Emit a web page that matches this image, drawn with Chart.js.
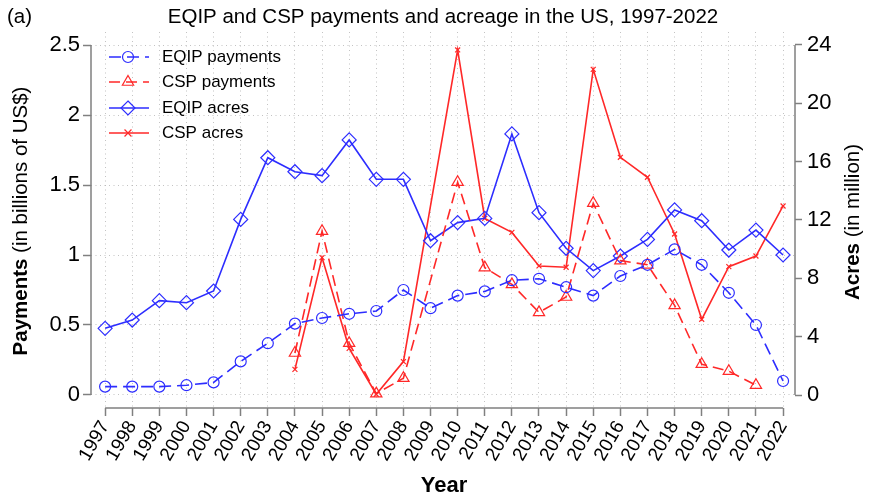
<!DOCTYPE html>
<html>
<head>
<meta charset="utf-8">
<script src="https://cdn.jsdelivr.net/npm/chart.js@4/dist/chart.umd.min.js"></script>
<style>
html,body{margin:0;padding:0;background:#fff;}
#wrap{width:870px;height:501px;position:relative;}
</style>
</head>
<body>
<div id="wrap"><canvas id="c" width="870" height="501"></canvas></div>
<script>
const years = [1997,1998,1999,2000,2001,2002,2003,2004,2005,2006,2007,2008,2009,2010,2011,2012,2013,2014,2015,2016,2017,2018,2019,2020,2021,2022];
const eqipPayments = [0.06,0.06,0.06,0.07,0.09,0.24,0.37,0.51,0.55,0.58,0.60,0.75,0.62,0.71,0.74,0.82,0.83,0.77,0.71,0.85,0.93,1.04,0.93,0.73,0.50,0.10];
const cspPayments = [null,null,null,null,null,null,null,0.30,1.17,0.37,0.01,0.12,null,1.52,0.91,0.79,0.59,0.70,1.37,0.96,0.93,0.64,0.22,0.17,0.07,null];
const eqipAcres = [4.57,5.14,6.47,6.33,7.13,12.04,16.27,15.31,15.04,17.49,14.79,14.79,10.58,11.82,12.11,17.90,12.50,10.06,8.53,9.53,10.67,12.69,11.95,9.94,11.31,9.60];
const cspAcres = [null,null,null,null,null,null,null,1.76,9.42,3.20,0.05,2.29,null,23.66,12.11,11.15,8.85,8.76,22.33,16.30,14.93,11.04,5.19,8.80,9.53,12.96];
const leftTicks = [0,0.5,1,1.5,2,2.5];
const rightTicks = [0,4,8,12,16,20,24];
const seriesNames = ['EQIP payments','CSP payments','EQIP acres','CSP acres'];

const BLUE = 'rgb(45,45,255)';
const RED = 'rgb(255,40,40)';
const FONT = "'Liberation Sans', Arial, sans-serif";
const AXIS = 'rgb(128,128,128)';

function pts(arr){ return arr.map((v,i)=>({x:years[i], y:v})); }

const datasets = [
  {label:seriesNames[0], data:pts(eqipPayments), yAxisID:'y', borderColor:BLUE, borderWidth:1.6, borderDash:[12,6],
   pointStyle:'circle', pointRadius:5.5, pointBorderColor:BLUE, pointBackgroundColor:'rgba(0,0,0,0)', pointBorderWidth:1.2},
  {label:seriesNames[1], data:pts(cspPayments), yAxisID:'y', borderColor:RED, borderWidth:1.6, borderDash:[11,6],
   pointStyle:'triangle', pointRadius:6.5, pointBorderColor:RED, pointBackgroundColor:'rgba(0,0,0,0)', pointBorderWidth:1.2, spanGaps:true},
  {label:seriesNames[2], data:pts(eqipAcres), yAxisID:'y1', borderColor:BLUE, borderWidth:1.6,
   pointStyle:'rectRot', pointRadius:7, pointBorderColor:BLUE, pointBackgroundColor:'rgba(0,0,0,0)', pointBorderWidth:1.2},
  {label:seriesNames[3], data:pts(cspAcres), yAxisID:'y1', borderColor:RED, borderWidth:1.6,
   pointStyle:'crossRot', pointRadius:3.5, pointBorderColor:RED, pointBackgroundColor:'rgba(0,0,0,0)', pointBorderWidth:1.2, spanGaps:true}
];

function drawMarker(ctx, style, x, y, r, color){
  ctx.save();
  ctx.strokeStyle = color; ctx.lineWidth = 1.2; ctx.setLineDash([]);
  ctx.beginPath();
  if(style==='circle'){ ctx.arc(x,y,r,0,Math.PI*2); }
  else if(style==='triangle'){
    const a = r*Math.sqrt(3)/2;
    ctx.moveTo(x, y-r); ctx.lineTo(x+a, y+r/2); ctx.lineTo(x-a, y+r/2); ctx.closePath();
  } else if(style==='rectRot'){
    ctx.moveTo(x, y-r); ctx.lineTo(x+r, y); ctx.lineTo(x, y+r); ctx.lineTo(x-r, y); ctx.closePath();
  } else if(style==='crossRot'){
    const d = r*0.7071*1.4;
    ctx.moveTo(x-d,y-d); ctx.lineTo(x+d,y+d); ctx.moveTo(x+d,y-d); ctx.lineTo(x-d,y+d);
  }
  ctx.stroke();
  ctx.restore();
}

const decor = {
  id:'decor',
  afterDraw(chart){
    const ctx = chart.ctx;
    const xs = chart.scales.x, yl = chart.scales.y, yr = chart.scales.y1;
    ctx.save();
    ctx.strokeStyle = AXIS; ctx.lineWidth = 1.5; ctx.setLineDash([]);
    const ca = chart.chartArea;
    ctx.beginPath();
    ctx.moveTo(ca.left, yl.getPixelForValue(leftTicks[0])); ctx.lineTo(ca.left, yl.getPixelForValue(leftTicks[leftTicks.length-1]));
    ctx.moveTo(ca.right, yr.getPixelForValue(rightTicks[0])); ctx.lineTo(ca.right, yr.getPixelForValue(rightTicks[rightTicks.length-1]));
    ctx.moveTo(xs.getPixelForValue(years[0]), ca.bottom); ctx.lineTo(xs.getPixelForValue(years[years.length-1]), ca.bottom);
    ctx.stroke();

    ctx.fillStyle = '#000';
    ctx.textBaseline = 'middle';
    ctx.font = '20.5px ' + FONT;
    ctx.textAlign = 'left';
    ctx.fillText('(a)', 7, 17);
    ctx.textAlign = 'center';
    ctx.fillText('EQIP and CSP payments and acreage in the US, 1997-2022', 443, 17);

    ctx.font = 'bold 22px ' + FONT;
    ctx.fillText('Year', 444, 486);

    function mixedTitle(bold, rest, cx, cy){
      ctx.save();
      ctx.translate(cx, cy);
      ctx.rotate(-Math.PI/2);
      ctx.font = 'bold 20.5px ' + FONT;
      const w1 = ctx.measureText(bold).width;
      ctx.font = '20.5px ' + FONT;
      const w2 = ctx.measureText(rest).width;
      const start = -(w1+w2)/2;
      ctx.textAlign = 'left';
      ctx.font = 'bold 20.5px ' + FONT;
      ctx.fillText(bold, start, 0);
      ctx.font = '20.5px ' + FONT;
      ctx.fillText(rest, start + w1, 0);
      ctx.restore();
    }
    mixedTitle('Payments', ' (in billions of US$)', 21, 221);
    mixedTitle('Acres', ' (in million)', 853, 222);

    const rows = [57, 82, 108, 133];
    chart.data.datasets.forEach((ds, i)=>{
      const y = rows[i];
      ctx.save();
      ctx.strokeStyle = ds.borderColor; ctx.lineWidth = ds.borderWidth;
      ctx.setLineDash(ds.borderDash || []);
      ctx.beginPath(); ctx.moveTo(109, y); ctx.lineTo(149, y); ctx.stroke();
      ctx.restore();
      drawMarker(ctx, ds.pointStyle, 128, y, ds.pointRadius, ds.pointBorderColor);
      ctx.fillStyle = '#000';
      ctx.font = '17px ' + FONT;
      ctx.textAlign = 'left';
      ctx.textBaseline = 'middle';
      ctx.fillText(ds.label, 162, y);
    });
    ctx.restore();
  }
};

const gridDot = {color:'rgba(175,175,175,0.75)', lineWidth:1, tickColor:AXIS, tickWidth:1.5, tickBorderDash:[], tickLength:7};
const dotBorder = {display:false, dash:[1,3.5]};

new Chart(document.getElementById('c'), {
  type:'line',
  data:{datasets},
  options:{
    responsive:false,
    animation:false,
    events:[],
    layout:{padding:{top:32, left:0, right:0, bottom:0}},
    plugins:{legend:{display:false}, title:{display:false}, tooltip:{enabled:false}},
    scales:{
      x:{
        type:'linear', min:1996.48, max:2022.44,
        afterBuildTicks(s){ s.ticks = years.map(v=>({value:v})); },
        afterFit(s){ s.height = 93; },
        ticks:{callback:v=>String(v), minRotation:60, maxRotation:60, autoSkip:false, padding:1,
               color:'#000', font:{family:FONT, size:19}},
        grid:Object.assign({}, gridDot, {tickLength:8}),
        border:dotBorder
      },
      y:{
        type:'linear', position:'left', min:-0.0929, max:2.593,
        afterBuildTicks(s){ s.ticks = leftTicks.map(v=>({value:v})); },
        afterFit(s){ s.width = 91; },
        ticks:{callback:v=>String(v), padding:3, color:'#000', font:{family:FONT, size:22}},
        grid:Object.assign({}, gridDot, {tickLength:8}),
        border:dotBorder
      },
      y1:{
        type:'linear', position:'right', min:-0.891, max:24.89,
        afterBuildTicks(s){ s.ticks = rightTicks.map(v=>({value:v})); },
        afterFit(s){ s.width = 75; },
        ticks:{callback:v=>String(v), padding:5, color:'#000', font:{family:FONT, size:22}},
        grid:Object.assign({}, gridDot, {drawOnChartArea:false, tickLength:7}),
        border:dotBorder
      }
    }
  },
  plugins:[decor]
});
</script>
</body>
</html>
